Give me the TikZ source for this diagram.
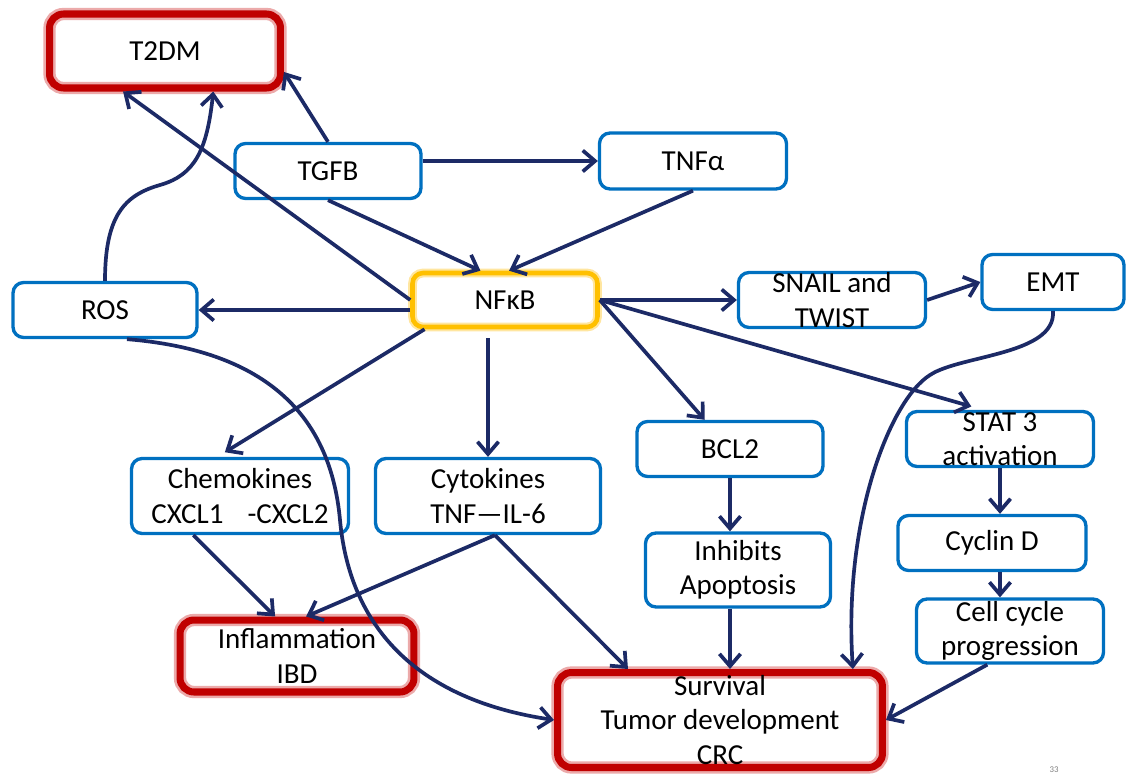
\documentclass[tikz,border=0pt]{standalone}
\usepackage{fontspec}
\setmainfont{Carlito}
\usetikzlibrary{arrows.meta}
\definecolor{boxblue}{RGB}{0,112,192}
\definecolor{arrowblue}{RGB}{28,42,102}
\definecolor{boxred}{RGB}{192,0,0}
\definecolor{glowred}{RGB}{236,170,170}
\definecolor{boxyellow}{RGB}{255,192,0}
\definecolor{glowyellow}{RGB}{255,230,160}

\begin{document}
\begin{tikzpicture}[x=0.02cm,y=0.02cm,
  every node/.style={font=\fontsize{16.5}{19.5}\selectfont, align=center, inner xsep=0pt, inner ysep=-6pt},
  box/.style={draw=boxblue, line width=1.9pt, rounded corners=6pt, minimum width=3.72cm, minimum height=1.1cm},
  redbox/.style={draw=boxred, line width=4pt, rounded corners=8pt, preaction={draw=glowred, line width=7pt}},
  yellowbox/.style={draw=boxyellow, line width=2.6pt, rounded corners=6pt, preaction={draw=glowyellow, line width=5pt},
    minimum width=3.7cm, minimum height=1.08cm},
  arr/.style={draw=arrowblue, line width=2.1pt, -{Straight Barb[length=7pt,width=12pt]}}]
  \fill[white] (0,0) rectangle (1126,-778);
  \path[use as bounding box] (0,0) rectangle (1126,-778);

  \node[redbox, minimum width=4.62cm, minimum height=1.48cm] (t2dm) at (165,-51) {T2DM};
  \node[box] (tgfb) at (328,-171) {TGFB};
  \node[box, minimum width=3.74cm, minimum height=1.12cm] (tnfa) at (693,-161) {TNFα};
  \node[box, minimum width=3.68cm] (ros) at (105,-310) {ROS};
  \node[yellowbox] (nfkb) at (505,-300) {NFκB};
  \node[box, minimum width=3.74cm] (snail) at (832,-300) {SNAIL and\\TWIST};
  \node[box, minimum width=2.84cm] (emt) at (1053,-282) {EMT};
  \node[box] (bcl2) at (730,-449) {BCL2};
  \node[box, minimum width=3.74cm] (stat3) at (1000,-439) {STAT 3\\activation};
  \node[box, minimum width=4.34cm, minimum height=1.5cm] (chemo) at (240,-496) {Chemokines\\CXCL1\hspace{10pt} -CXCL2};
  \node[box, minimum width=4.5cm, minimum height=1.5cm] (cyto) at (488,-496) {Cytokines\\TNF—IL-6};
  \node[box, minimum width=3.7cm, minimum height=1.48cm] (inhib) at (738,-570) {Inhibits\\Apoptosis};
  \node[box, minimum width=3.76cm] (cyclin) at (992,-543) {Cyclin D};
  \node[box, minimum width=3.74cm, minimum height=1.28cm] (cell) at (1010,-631) {Cell cycle\\progression};
  \node[redbox, minimum width=4.68cm, minimum height=1.44cm] (infl) at (297,-656) {Inflammation\\IBD};
  \node[redbox, minimum width=6.5cm, minimum height=1.9cm] (surv) at (720,-720) {Survival\\Tumor development\\CRC};
  \node[font=\tiny, text=gray, inner sep=0pt] (pagenum) at (1054,-770) {33};

  \draw[arr] (tgfb.north) -- (t2dm.-10);
  \draw[arr] (nfkb.west) -- (t2dm.-136);
  \draw[arr] (ros.north) .. controls (105,-215) and (125,-195) .. (160,-185)
    .. controls (195,-175) and (207,-150) .. (t2dm.-40);
  \draw[arr] (tgfb.east |- tnfa.west) -- (tnfa.west);
  \draw[arr] (tgfb.south) -- (nfkb.130);
  \draw[arr] (tnfa.south) -- (nfkb.82);
  \draw[arr] (nfkb.west |- ros.east) -- (ros.east);
  \draw[arr] (nfkb.east) -- (snail.west);
  \draw[arr] (snail.east) -- (emt.west);
  \draw[arr, shorten >=7pt] (nfkb.east) -- (stat3.120);
  \draw[arr] (nfkb.east) -- (bcl2.131);
  \draw[arr, shorten >=5pt] (nfkb.-160) -- (chemo.120);
  \draw[arr, shorten <=5pt] (nfkb.south -| cyto.north) -- (cyto.north);
  \draw[arr] (emt.south) .. controls (1056,-355) and (960,-355) .. (930,-375)
    .. controls (890,-400) and (843,-520) .. (surv.21);
  \draw[arr] (ros.-53) .. controls (260,-350) and (330,-410) .. (340,-520)
    .. controls (350,-630) and (420,-700) .. (surv.west);
  \draw[arr] (chemo.-140) -- (infl.119);
  \draw[arr] (cyto.-80) -- (infl.77);
  \draw[arr] (cyto.-80) -- (surv.151);
  \draw[arr] (bcl2.south) -- (bcl2.south |- inhib.north);
  \draw[arr] (inhib.south -| bcl2.south) -- (bcl2.south |- surv.north);
  \draw[arr] (stat3.south) -- (stat3.south |- cyclin.north);
  \draw[arr] (cyclin.south -| stat3.south) -- (stat3.south |- cell.north);
  \draw[arr] (cell.-124) -- (surv.east);
\end{tikzpicture}
\end{document}
